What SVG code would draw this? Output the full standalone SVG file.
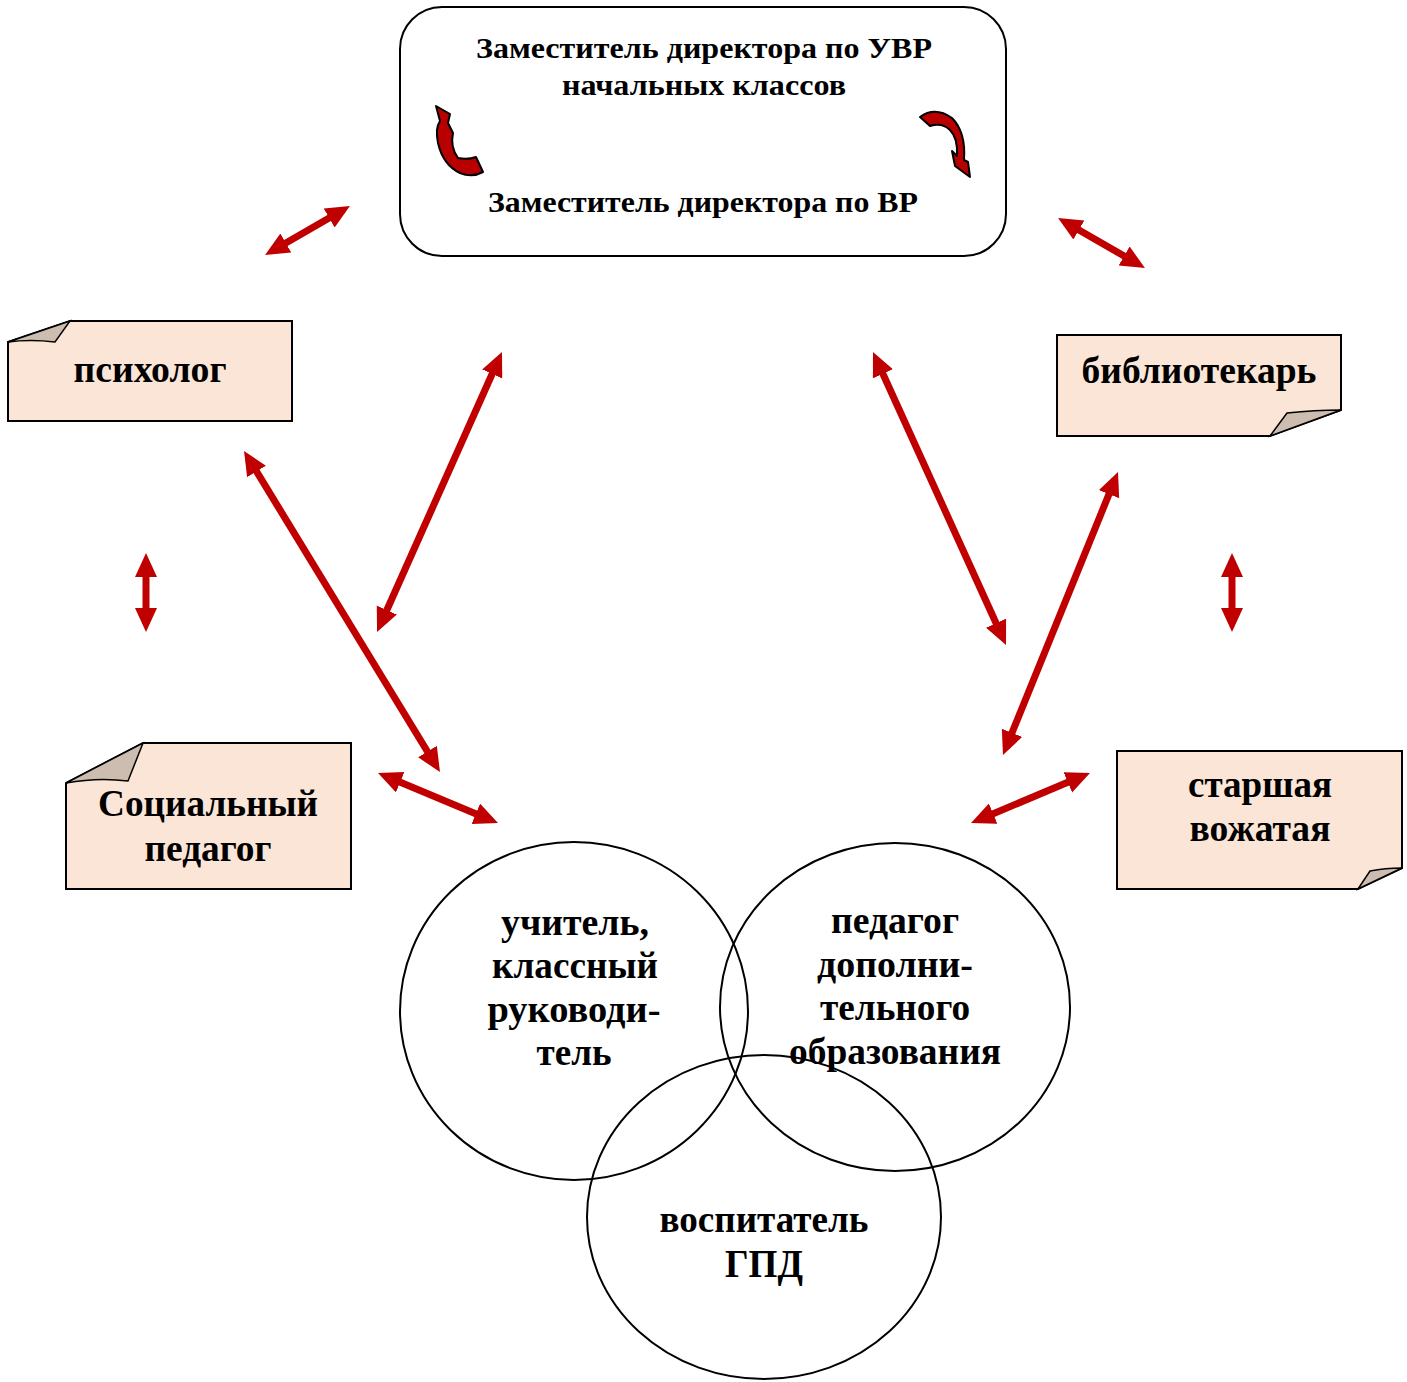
<svg xmlns="http://www.w3.org/2000/svg" width="1407" height="1382" viewBox="0 0 1407 1382">
<defs>
<style>
.t{font-family:"Liberation Serif","Times New Roman",serif;font-weight:bold;fill:#000;text-anchor:middle}
.note{fill:#fbe5d6;stroke:#000;stroke-width:2}
.flap{fill:#cdbdb0;stroke:#000;stroke-width:1.5}
.circ{fill:none;stroke:#000;stroke-width:2}
.arr{stroke:#c00000;stroke-width:7;fill:none;marker-start:url(#ah);marker-end:url(#ah)}
.curv{fill:#b80000;stroke:#000;stroke-width:2;stroke-linejoin:round}
</style>
<marker id="ah" markerUnits="userSpaceOnUse" markerWidth="26" markerHeight="24" refX="16" refY="11" orient="auto-start-reverse" viewBox="0 0 26 24">
<path d="M0,0 L24,11 L0,22 z" fill="#c00000"/>
</marker>
</defs>
<rect width="1407" height="1382" fill="#fff"/>

<g id="top">
<rect x="400" y="7" width="606" height="249" rx="42" ry="42" fill="#fff" stroke="#000" stroke-width="2"/>
<text class="t" x="704" y="58" font-size="29" textLength="456" lengthAdjust="spacingAndGlyphs">Заместитель директора по УВР</text>
<text class="t" x="704" y="95" font-size="29" textLength="284" lengthAdjust="spacingAndGlyphs">начальных классов</text>
<text class="t" x="703" y="212" font-size="29" textLength="430" lengthAdjust="spacingAndGlyphs">Заместитель директора по ВР</text>
<path class="curv" d="M436,106 L450,114 L448,123 L453,133 Q450,147 458,158 Q468,160 476,157 L483,172 Q472,178 460,173 Q443,165 438,143 Q435,128 440,121 Z"/>
<path class="curv" d="M920,117 Q935,106 952,118 Q966,132 964,160 L968,162 L970,177 L955,166 L952,151 L957,156 Q958,138 950,130 Q942,122 930,126 Z"/>
</g>

<g id="psiholog">
<path class="note" d="M70,321 L292,321 L292,421 L8,421 L8,342 Z"/>
<path class="flap" d="M8,342 L70,321 L55,342 Q30,339 8,342 Z"/>
<text class="t" x="150" y="382" font-size="37" textLength="153" lengthAdjust="spacingAndGlyphs">психолог</text>
</g>

<g id="bibliotekar">
<path class="note" d="M1057,335 L1341,335 L1341,410 L1270,436 L1057,436 Z"/>
<path class="flap" d="M1341,410 L1270,436 L1287,413 Q1315,410 1341,410 Z"/>
<text class="t" x="1199" y="383" font-size="37" textLength="235" lengthAdjust="spacingAndGlyphs">библиотекарь</text>
</g>

<g id="socped">
<path class="note" d="M143,743 L351,743 L351,889 L66,889 L66,783 Z"/>
<path class="flap" d="M66,783 L143,743 L128,781 Q98,777 66,783 Z"/>
<text class="t" x="208" y="816" font-size="37" textLength="220" lengthAdjust="spacingAndGlyphs">Социальный</text>
<text class="t" x="208" y="861" font-size="37" textLength="127" lengthAdjust="spacingAndGlyphs">педагог</text>
</g>

<g id="vozhataya">
<path class="note" d="M1117,751 L1402,751 L1402,868 L1358,889 L1117,889 Z"/>
<path class="flap" d="M1402,868 L1358,889 L1370,871 Q1385,868 1402,868 Z"/>
<text class="t" x="1260" y="797" font-size="37" textLength="144" lengthAdjust="spacingAndGlyphs">старшая</text>
<text class="t" x="1260" y="841" font-size="37" textLength="141" lengthAdjust="spacingAndGlyphs">вожатая</text>
</g>

<g id="uchitel">
<ellipse class="circ" cx="574" cy="1011" rx="174" ry="169"/>
<text class="t" x="575" y="935" font-size="37" textLength="148" lengthAdjust="spacingAndGlyphs">учитель,</text>
<text class="t" x="575" y="978" font-size="37" textLength="166" lengthAdjust="spacingAndGlyphs">классный</text>
<text class="t" x="574" y="1022" font-size="37" textLength="173" lengthAdjust="spacingAndGlyphs">руководи-</text>
<text class="t" x="574" y="1065" font-size="37" textLength="75" lengthAdjust="spacingAndGlyphs">тель</text>
</g>

<g id="pdo">
<ellipse class="circ" cx="895" cy="1007" rx="175" ry="164"/>
<text class="t" x="895" y="933" font-size="37" textLength="128" lengthAdjust="spacingAndGlyphs">педагог</text>
<text class="t" x="895" y="977" font-size="37" textLength="156" lengthAdjust="spacingAndGlyphs">дополни-</text>
<text class="t" x="895" y="1020" font-size="37" textLength="150" lengthAdjust="spacingAndGlyphs">тельного</text>
<text class="t" x="895" y="1064" font-size="37" textLength="212" lengthAdjust="spacingAndGlyphs">образования</text>
</g>

<g id="gpd">
<ellipse class="circ" cx="764" cy="1217" rx="177" ry="162"/>
<text class="t" x="764" y="1232" font-size="37" textLength="209" lengthAdjust="spacingAndGlyphs">воспитатель</text>
<text class="t" x="764" y="1277" font-size="39" textLength="78" lengthAdjust="spacingAndGlyphs">ГПД</text>
</g>

<g id="connectors">
<line class="arr" x1="272" y1="251" x2="343" y2="210"/>
<line class="arr" x1="1065" y1="222" x2="1138" y2="264"/>
<line class="arr" x1="146" y1="561" x2="146" y2="624"/>
<line class="arr" x1="1232" y1="561" x2="1232" y2="624"/>
<line class="arr" x1="498.7" y1="359.3" x2="380.3" y2="624.7"/>
<line class="arr" x1="876.3" y1="359.3" x2="1002.7" y2="637.7"/>
<line class="arr" x1="248.2" y1="457.8" x2="435.8" y2="765.2"/>
<line class="arr" x1="1115" y1="479.4" x2="1006" y2="747.6"/>
<line class="arr" x1="385.4" y1="776.1" x2="490.6" y2="819.9"/>
<line class="arr" x1="978.4" y1="819.9" x2="1082.6" y2="776.1"/>
</g>
</svg>
